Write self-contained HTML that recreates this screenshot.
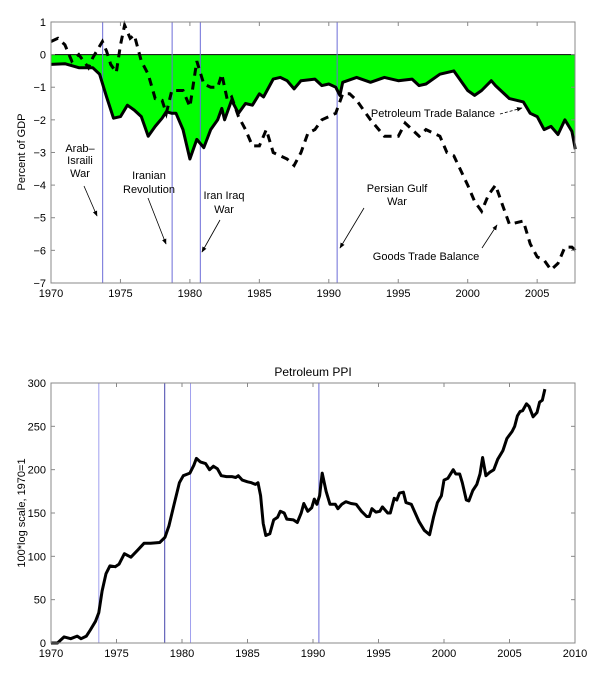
<!DOCTYPE html>
<html><head><meta charset="utf-8"><style>
html,body{margin:0;padding:0;background:#fff;width:600px;height:677px;overflow:hidden}
svg text{font-family:"Liberation Sans",sans-serif;font-size:11px;fill:#000}
</style></head><body>
<svg id="s" width="600" height="677" xmlns="http://www.w3.org/2000/svg">
<defs><marker id="ah" viewBox="0 0 10 10" refX="9" refY="5" markerWidth="7" markerHeight="7" orient="auto"><path d="M0,1 L10,5 L0,9 Z" fill="#000"/></marker></defs>
<g id="top"></g><g id="bot"></g>
<text x="313" y="376" text-anchor="middle" style="font-size:12px">Petroleum PPI</text>
<text transform="translate(25,152) rotate(-90)" text-anchor="middle">Percent of GDP</text>
<text transform="translate(25,513) rotate(-90)" text-anchor="middle">100*log scale, 1970=1</text>
<g text-anchor="middle">
<text x="80" y="152">Arab–</text><text x="80" y="164">Israili</text><text x="80" y="177">War</text>
<text x="149" y="179">Iranian</text><text x="149" y="193">Revolution</text>
<text x="224" y="199">Iran Iraq</text><text x="224" y="213">War</text>
<text x="397" y="192">Persian Gulf</text><text x="397" y="205">War</text>
<text x="433" y="117">Petroleum Trade Balance</text>
<text x="426" y="260">Goods Trade Balance</text>
</g>
<g stroke="#000" stroke-width="0.8" fill="none" marker-end="url(#ah)">
<line x1="84" y1="186" x2="97" y2="216"/>
<line x1="148" y1="198" x2="166" y2="244"/>
<line x1="220" y1="220" x2="202" y2="252"/>
<line x1="364" y1="208" x2="340" y2="248"/>
<line x1="500" y1="114" x2="522" y2="108" stroke-dasharray="3,2"/>
<line x1="482" y1="248" x2="497" y2="225"/>
</g>
</svg>
<script>
var NS="http://www.w3.org/2000/svg";
function el(p,t,a){var e=document.createElementNS(NS,t);for(var k in a)e.setAttribute(k,a[k]);p.appendChild(e);return e;}
// top chart
var T=document.getElementById('top');
var tx=function(y){return 51+13.89*(y-1970)}, ty=function(v){return 54.6-32.625*v};
var pet=[[1970,-.3],[1971,-.28],[1972,-.4],[1973,-.4],[1973.5,-.6],[1974,-1.3],[1974.5,-1.95],[1975,-1.9],[1975.5,-1.55],[1976,-1.7],[1976.5,-1.9],[1977,-2.5],[1977.5,-2.2],[1978,-1.95],[1978.3,-1.75],[1978.7,-1.8],[1979,-1.8],[1979.5,-2.3],[1980,-3.2],[1980.5,-2.6],[1981,-2.85],[1981.5,-2.3],[1982,-2.0],[1982.3,-1.65],[1982.5,-2.0],[1983,-1.4],[1983.5,-1.8],[1984,-1.5],[1984.5,-1.55],[1985,-1.2],[1985.3,-1.3],[1986,-.75],[1986.5,-.7],[1987,-.8],[1987.5,-1.05],[1988,-.8],[1989,-.75],[1989.5,-.95],[1990,-.9],[1990.5,-1.0],[1990.8,-1.25],[1991,-.85],[1992,-.7],[1993,-.85],[1994,-.7],[1995,-.8],[1996,-.75],[1996.5,-.95],[1997,-.9],[1998,-.6],[1999,-.5],[1999.5,-.8],[2000,-1.1],[2000.5,-1.25],[2001,-1.1],[2001.7,-.8],[2002,-.95],[2003,-1.35],[2004,-1.45],[2004.5,-1.8],[2005,-1.9],[2005.5,-2.3],[2006,-2.2],[2006.5,-2.45],[2007,-2.0],[2007.5,-2.35],[2007.75,-2.9]];
var goods=[[1970,.4],[1970.5,.5],[1971,.3],[1971.5,-.2],[1972,0],[1972.7,-.4],[1973,-.1],[1973.7,.4],[1974,.1],[1974.3,-.3],[1974.7,-.55],[1975,.3],[1975.3,.9],[1975.7,.5],[1976,.6],[1976.5,-.2],[1977,-.6],[1977.5,-1.35],[1978,-1.4],[1978.3,-1.8],[1978.7,-1.1],[1979,-1.1],[1979.5,-1.1],[1980,-1.6],[1980.5,-.2],[1981,-.9],[1981.5,-1.0],[1982,-1.0],[1982.3,-.6],[1982.7,-1.4],[1983,-1.3],[1983.5,-1.9],[1984,-2.3],[1984.5,-2.8],[1985,-2.8],[1985.5,-2.3],[1986,-3.0],[1987,-3.2],[1987.5,-3.4],[1988,-3.0],[1988.5,-2.4],[1989,-2.3],[1989.5,-2.0],[1990,-1.9],[1990.5,-1.8],[1991,-1.2],[1991.5,-1.2],[1992,-1.4],[1993,-2.0],[1994,-2.5],[1995,-2.5],[1995.5,-2.1],[1996.5,-2.5],[1997,-2.3],[1998,-2.5],[1998.5,-3.0],[1999,-3.1],[2000,-4.0],[2000.5,-4.5],[2001,-4.8],[2001.5,-4.3],[2002,-4.0],[2002.5,-4.6],[2003,-5.2],[2004,-5.1],[2004.5,-5.8],[2005,-6.2],[2005.5,-6.3],[2006,-6.6],[2006.5,-6.4],[2007,-5.9],[2007.5,-5.9],[2007.75,-6.0]];
function path(d,fx,fy){return d.map(function(p,i){return (i?'L':'M')+fx(p[0]).toFixed(1)+','+fy(p[1]).toFixed(1)}).join('');}
el(T,'path',{d:'M51,'+ty(0)+path(pet,tx,ty).replace(/^M/,'L')+'L575,'+ty(0)+'Z',fill:'#00ff00'});
el(T,'line',{x1:51,y1:ty(0),x2:575,y2:ty(0),stroke:'#000','stroke-width':1});
[1973.72,1978.72,1980.75,1990.6].forEach(function(y){el(T,'line',{x1:tx(y),y1:22,x2:tx(y),y2:283,stroke:'#6c6cd8','stroke-width':1})});
el(T,'path',{d:path(goods,tx,ty),fill:'none',stroke:'#000','stroke-width':3,'stroke-dasharray':'8,6'});
el(T,'path',{d:path(pet,tx,ty),fill:'none',stroke:'#000','stroke-width':3,'stroke-linejoin':'round'});
el(T,'rect',{x:51,y:22,width:524,height:261,fill:'none',stroke:'#888','stroke-width':1});
for(var v=1;v>=-7;v--){var y=ty(v);el(T,'line',{x1:51,y1:y,x2:55,y2:y,stroke:'#888'});el(T,'line',{x1:571,y1:y,x2:575,y2:y,stroke:'#888'});var t=el(T,'text',{x:46,y:y+4,'text-anchor':'end'});t.textContent=(v<0?'−':'')+Math.abs(v);}
for(var yr=1970;yr<=2005;yr+=5){var x=tx(yr);el(T,'line',{x1:x,y1:283,x2:x,y2:279,stroke:'#888'});el(T,'line',{x1:x,y1:22,x2:x,y2:26,stroke:'#888'});var t=el(T,'text',{x:x,y:297,'text-anchor':'middle'});t.textContent=yr;}
// bottom chart
var B=document.getElementById('bot');
var bx=function(y){return 51+13.1*(y-1970)}, by=function(v){return 643-0.8667*v};
var ppi=[[1970,0],[1970.5,0],[1971,7],[1971.5,5],[1972,8],[1972.3,5],[1972.7,8],[1973,15],[1973.4,25],[1973.65,35],[1973.9,60],[1974.2,80],[1974.5,89],[1974.9,88],[1975.2,91],[1975.6,103],[1976.1,99],[1976.6,107],[1977.1,115],[1977.6,115],[1978.3,116],[1978.7,122],[1979.0,135],[1979.4,160],[1979.8,185],[1980.1,193],[1980.6,196],[1980.9,205],[1981.1,213],[1981.4,209],[1981.8,207],[1982.1,200],[1982.4,204],[1982.7,201],[1983.0,193],[1983.4,192],[1983.8,192],[1984.1,191],[1984.3,193],[1984.6,188],[1985.0,186],[1985.3,185],[1985.6,183],[1985.8,185],[1986.0,170],[1986.2,138],[1986.4,124],[1986.7,126],[1987.0,142],[1987.3,145],[1987.5,152],[1987.8,150],[1988.0,143],[1988.5,142],[1988.8,139],[1989.1,150],[1989.3,161],[1989.6,152],[1989.9,156],[1990.1,166],[1990.3,160],[1990.5,170],[1990.7,196],[1991.0,175],[1991.3,160],[1991.7,160],[1991.9,155],[1992.2,160],[1992.5,163],[1992.9,161],[1993.3,160],[1993.7,152],[1994.1,146],[1994.3,146],[1994.5,155],[1994.8,151],[1995.1,152],[1995.3,157],[1995.7,150],[1995.9,150],[1996.2,167],[1996.4,165],[1996.6,173],[1996.9,174],[1997.1,162],[1997.5,160],[1997.8,150],[1998.1,140],[1998.5,130],[1998.9,125],[1999.2,145],[1999.5,162],[1999.8,170],[2000.0,188],[2000.3,190],[2000.7,200],[2000.9,195],[2001.2,195],[2001.4,185],[2001.7,165],[2001.9,164],[2002.2,176],[2002.5,183],[2002.75,195],[2002.95,214],[2003.2,193],[2003.5,197],[2003.8,200],[2004.1,212],[2004.5,222],[2004.8,236],[2005.2,244],[2005.4,250],[2005.6,262],[2005.8,267],[2006.0,268],[2006.3,276],[2006.5,273],[2006.8,261],[2007.1,266],[2007.3,278],[2007.5,280],[2007.7,293]];
[[1973.65,'#a0a0ee'],[1978.68,'#4444aa'],[1980.65,'#a0a0ee'],[1990.45,'#6c6cd8']].forEach(function(a){el(B,'line',{x1:bx(a[0]),y1:383,x2:bx(a[0]),y2:643,stroke:a[1],'stroke-width':1})});
el(B,'path',{d:path(ppi,bx,by),fill:'none',stroke:'#000','stroke-width':3,'stroke-linejoin':'round'});
el(B,'rect',{x:51,y:383,width:524,height:260,fill:'none',stroke:'#888','stroke-width':1});
for(var v=0;v<=300;v+=50){var y=by(v);el(B,'line',{x1:51,y1:y,x2:55,y2:y,stroke:'#888'});el(B,'line',{x1:571,y1:y,x2:575,y2:y,stroke:'#888'});var t=el(B,'text',{x:46,y:y+4,'text-anchor':'end'});t.textContent=v;}
for(var yr=1970;yr<=2010;yr+=5){var x=bx(yr);el(B,'line',{x1:x,y1:643,x2:x,y2:639,stroke:'#888'});el(B,'line',{x1:x,y1:383,x2:x,y2:387,stroke:'#888'});var t=el(B,'text',{x:x,y:657,'text-anchor':'middle'});t.textContent=yr;}
</script>
</body></html>
